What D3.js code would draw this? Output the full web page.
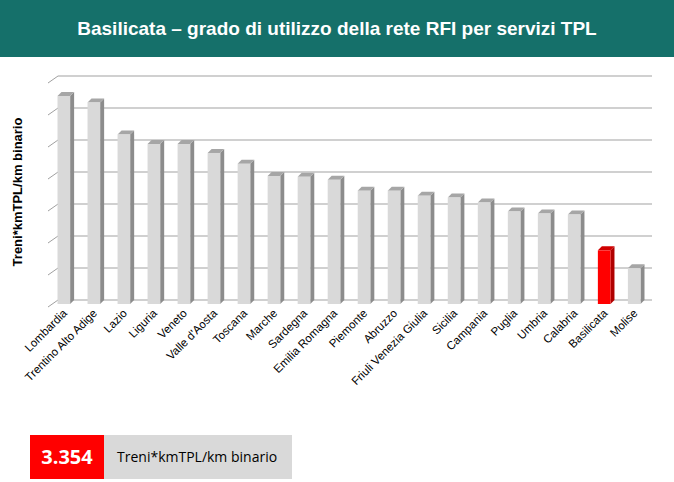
<!DOCTYPE html>
<html><head><meta charset="utf-8">
<script src="https://cdn.jsdelivr.net/npm/d3@7"></script>
<style>body{margin:0;background:#fff}svg{display:block;font-family:Arial,"Liberation Sans",sans-serif}</style>
</head><body><div id="chart"></div>
<script>
const regions = ["Lombardia","Trentino Alto Adige","Lazio","Liguria","Veneto","Valle d'Aosta","Toscana","Marche","Sardegna","Emilia Romagna","Piemonte","Abruzzo","Friuli Venezia Giulia","Sicilia","Campania","Puglia","Umbria","Calabria","Basilicata","Molise"];
const values = [13.0,12.6,10.6,10.0,10.0,9.44,8.76,8.0,7.95,7.76,7.08,7.08,6.77,6.65,6.34,5.78,5.65,5.59,3.354,2.24];
const gridTicks = [0,2,4,6,8,10,12,14];
const highlight = "Basilicata";

const W = 674, H = 482, dx = 4, dy = 4;
const svg = d3.select("#chart").append("svg").attr("width", W).attr("height", H);

svg.append("rect").attr("x",0).attr("y",0).attr("width",W).attr("height",57).attr("fill","#15706a");
svg.append("text").attr("x",W/2).attr("y",35).attr("text-anchor","middle").attr("fill","#fff")
  .attr("font-size",19).attr("font-weight","bold").text("Basilicata – grado di utilizzo della rete RFI per servizi TPL");

const x = d3.scaleBand().domain(regions).range([50,648]).paddingInner(0.58).paddingOuter(0.25);
const y = d3.scaleLinear().domain([0,14]).range([304,80]);

// back wall grid + diagonal ticks
const g = svg.append("g");
gridTicks.forEach(t => {
  g.append("line").attr("x1",58).attr("x2",652).attr("y1",y(t)-dy).attr("y2",y(t)-dy).attr("stroke","#d0d0d0").attr("stroke-width",2);
  g.append("line").attr("x1",48).attr("x2",58).attr("y1",y(t)+3).attr("y2",y(t)-dy).attr("stroke","#a0a0a0");
});

const bars = svg.append("g").selectAll("g").data(regions).join("g");
bars.each(function(r, i) {
  const s = d3.select(this), x0 = x(r), bw = x.bandwidth(), top = y(values[i]), bot = y(0);
  const red = r === highlight;
  const front = red ? "#ff0000" : "#d9d9d9", side = red ? "#b00000" : "#8c8c8c", cap = red ? "#d00000" : "#a6a6a6";
  s.append("polygon").attr("points",[[x0+bw,top],[x0+bw+dx,top-dy],[x0+bw+dx,bot-dy],[x0+bw,bot]].join(" ")).attr("fill",side);
  s.append("polygon").attr("points",[[x0,top],[x0+dx,top-dy],[x0+bw+dx,top-dy],[x0+bw,top]].join(" ")).attr("fill",cap);
  s.append("rect").attr("x",x0).attr("y",top).attr("width",bw).attr("height",bot-top).attr("fill",front);
});

svg.append("g").selectAll("text").data(regions).join("text")
  .attr("transform", d => `translate(${x(d)+x.bandwidth()/2+4},${314}) rotate(-45)`)
  .attr("text-anchor","end").attr("font-size",11.5).attr("fill","#000").text(d => d);

svg.append("text").attr("transform","translate(22,192) rotate(-90)").attr("text-anchor","middle")
  .attr("font-size",13).attr("font-weight","bold").text("Treni*kmTPL/km binario");

svg.append("rect").attr("x",30).attr("y",435).attr("width",74).attr("height",44).attr("fill","#ff0000");
svg.append("rect").attr("x",104).attr("y",435).attr("width",188).attr("height",44).attr("fill","#d9d9d9");
svg.append("text").attr("x",67).attr("y",464).attr("text-anchor","middle").attr("fill","#fff")
  .attr("font-size",20).attr("font-weight","bold").attr("font-family","'Open Sans',sans-serif").text("3.354");
svg.append("text").attr("x",117).attr("y",462).attr("font-size",14).attr("font-family","'Open Sans',sans-serif").text("Treni*kmTPL/km binario");
</script></body></html>
